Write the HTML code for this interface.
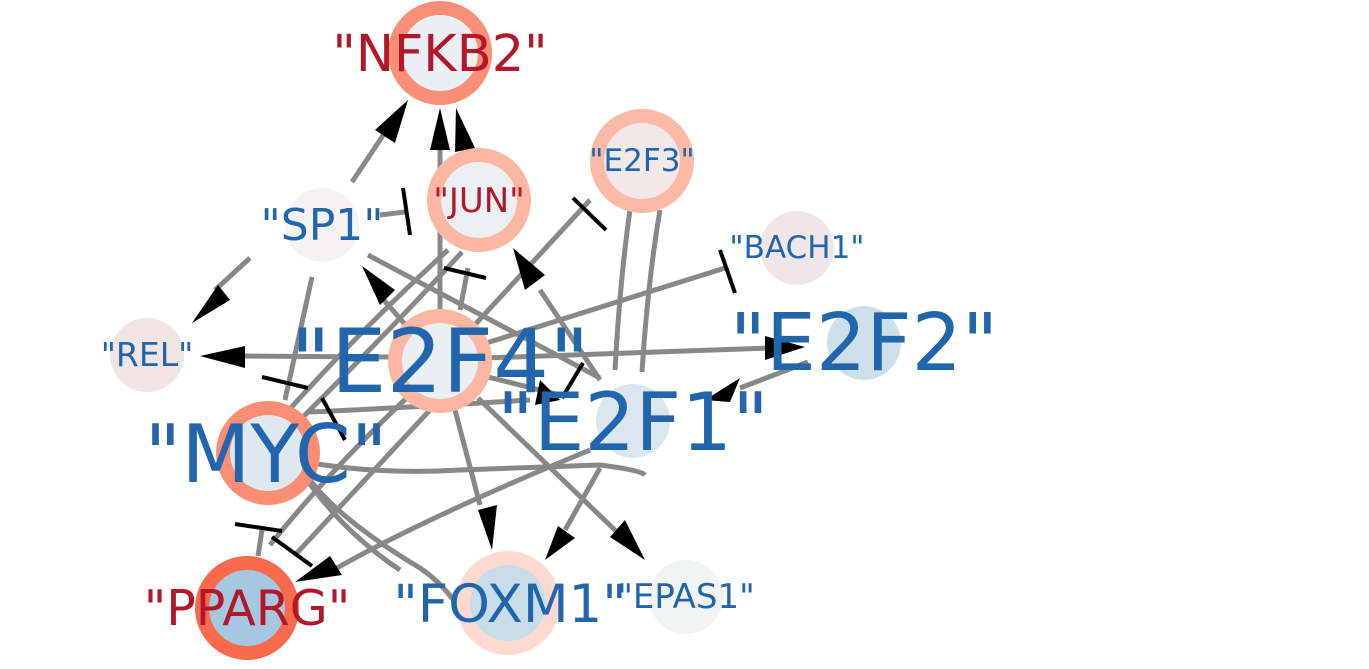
<!DOCTYPE html>
<html><head><style>body{margin:0;background:#fff}svg{display:block}</style></head><body>
<svg width="1369" height="669" viewBox="0 0 1369 669" xmlns="http://www.w3.org/2000/svg" font-family="DejaVu Sans, Liberation Sans, sans-serif">
<rect width="1369" height="669" fill="#fff"/>
<g stroke="#888" stroke-width="5" fill="none">
<path d="M352 182 L392 122"/>
<path d="M440 310 L440 130"/>
<path d="M462 148 L458 118"/>
<path d="M380 215 L405 212"/>
<path d="M250 258 L215 290"/>
<path d="M312 277 L285 400"/>
<path d="M368 255 L600 378"/>
<path d="M410 330 L375 290"/>
<path d="M280 420 Q360 330 448 250"/>
<path d="M300 420 Q400 320 462 252"/>
<path d="M460 310 L468 268"/>
<path d="M470 330 L590 200"/>
<path d="M600 380 L540 290"/>
<path d="M480 345 L725 268"/>
<path d="M630 210 Q620 280 615 370"/>
<path d="M660 210 Q648 280 642 372"/>
<path d="M485 358 L770 348"/>
<path d="M390 357 L240 356"/>
<path d="M480 375 L560 395"/>
<path d="M310 412 Q400 408 530 400"/>
<path d="M808 362 L740 388"/>
<path d="M305 462 Q380 475 460 470 L600 465 Q640 470 645 475"/>
<path d="M590 450 Q420 520 330 572"/>
<path d="M455 410 L480 505"/>
<path d="M478 398 L620 535"/>
<path d="M600 468 L565 530"/>
<path d="M310 480 Q340 520 420 568 Q445 585 460 610"/>
<path d="M300 470 Q340 530 400 570"/>
<path d="M270 545 Q330 470 415 390"/>
<path d="M258 556 L262 530"/>
<path d="M295 555 L430 410"/>
</g>
<g stroke="#000" stroke-width="4">
<line x1="403" y1="188" x2="410" y2="235"/>
<line x1="444" y1="268" x2="486" y2="278"/>
<line x1="573" y1="198" x2="606" y2="230"/>
<line x1="720" y1="250" x2="735" y2="293"/>
<line x1="262" y1="377" x2="308" y2="388"/>
<line x1="322" y1="398" x2="345" y2="440"/>
<line x1="583" y1="363" x2="562" y2="398"/>
<line x1="235" y1="524" x2="282" y2="531"/>
<line x1="272" y1="537" x2="312" y2="566"/>
</g>
<g fill="#000">
<polygon points="408,100 375,130 395,143"/>
<polygon points="440,108 430,150 450,150"/>
<polygon points="456,108 455,152 475,148"/>
<polygon points="192,323 230,300 218,285"/>
<polygon points="362,266 380,305 395,290"/>
<polygon points="513,248 525,290 545,275"/>
<polygon points="200,356 245,346 245,368"/>
<polygon points="805,347 765,336 765,360"/>
<polygon points="540,380 535,405 560,400"/>
<polygon points="705,400 740,378 730,402"/>
<polygon points="295,582 342,575 330,556"/>
<polygon points="492,550 478,510 497,505"/>
<polygon points="545,560 558,526 575,538"/>
<polygon points="645,560 610,537 625,520"/>
</g>
<g>
<circle cx="440" cy="53" r="52" fill="#fb8f75"/><circle cx="440" cy="53" r="38" fill="#eaeff3"/>
<circle cx="479" cy="200" r="52" fill="#fcb6a1"/><circle cx="479" cy="200" r="38" fill="#ecf0f3"/>
<circle cx="642" cy="161" r="52" fill="#fcb9a5"/><circle cx="642" cy="161" r="38" fill="#f2e8e8"/>
<circle cx="322" cy="225" r="37" fill="#f5f2f3"/>
<circle cx="797" cy="248" r="37" fill="#f1e6e7"/>
<circle cx="147" cy="355" r="37" fill="#f0e4e4"/>
<circle cx="440" cy="361" r="52" fill="#fcb6a1"/><circle cx="440" cy="361" r="38" fill="#e9eff4"/>
<circle cx="864" cy="343" r="37" fill="#cddfeb"/>
<circle cx="633" cy="421" r="37" fill="#dbe7ee"/>
<circle cx="268" cy="453" r="52" fill="#fb8d72"/><circle cx="268" cy="453" r="38" fill="#dfe8f0"/>
<circle cx="247" cy="608" r="52" fill="#f96a4b"/><circle cx="247" cy="608" r="38" fill="#a5c8e0"/>
<circle cx="508" cy="603" r="52" fill="#fed9cf"/><circle cx="508" cy="603" r="38" fill="#c9dde9"/>
<circle cx="686" cy="597" r="37" fill="#f2f4f4"/>
</g>
<g text-anchor="middle" fill="#2166ac">
<text x="440" y="71" font-size="51" fill="#b2182b">"NFKB2"</text>
<text x="479" y="212" font-size="34" fill="#b2182b">"JUN"</text>
<text x="642" y="171" font-size="31">"E2F3"</text>
<text x="322" y="240" font-size="44">"SP1"</text>
<text x="797" y="258" font-size="31">"BACH1"</text>
<text x="147" y="366" font-size="33">"REL"</text>
<text x="440" y="392" font-size="88">"E2F4"</text>
<text x="864" y="370" font-size="79">"E2F2"</text>
<text x="633" y="450" font-size="80">"E2F1"</text>
<text x="266" y="482" font-size="80">"MYC"</text>
<text x="247" y="625" font-size="49" fill="#b2182b">"PPARG"</text>
<text x="510" y="622" font-size="53">"FOXM1"</text>
<text x="686" y="608" font-size="34">"EPAS1"</text>
</g>
</svg>
</body></html>
